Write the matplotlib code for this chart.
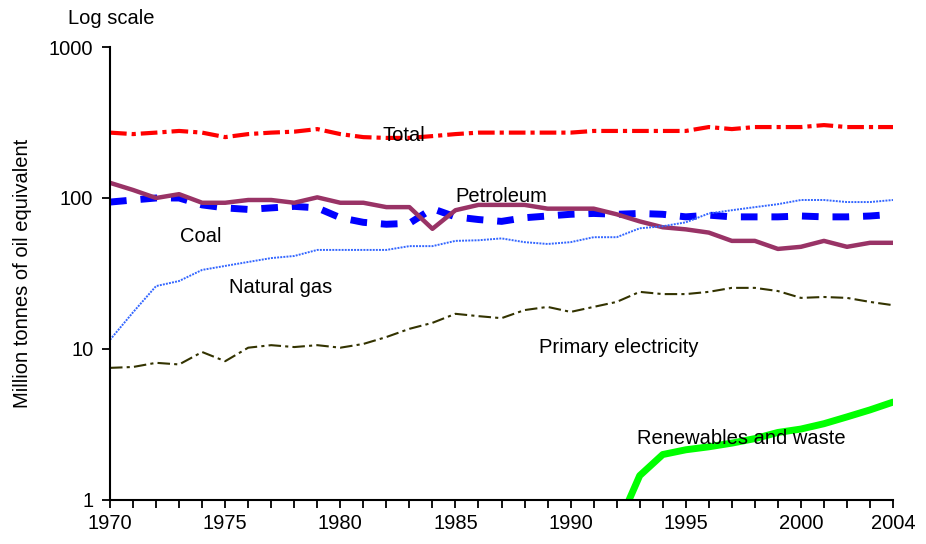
import matplotlib
matplotlib.use("Agg")
import matplotlib.pyplot as plt
from matplotlib.ticker import FixedLocator, NullLocator, FixedFormatter

plt.rcParams['font.family'] = ['Liberation Sans', 'DejaVu Sans']

years = list(range(1970, 2005))

total = [271, 265, 271, 278, 271, 253, 265, 271, 275, 286, 265, 253, 250, 250, 257,
         265, 271, 271, 271, 271, 271, 278, 278, 278, 278, 278, 295, 286, 295, 295,
         295, 304, 295, 295, 295]
petroleum = [126, 113, 100, 106, 93, 93, 97, 97, 93, 101, 93, 93, 87, 87, 62.5,
             83, 90, 90, 90, 85, 85, 85, 78, 70, 64, 62, 59, 52, 52, 46,
             47.5, 52, 47.5, 50.5, 50.5]
coal = [94, 97, 100, 100, 90, 86, 84, 86, 88, 86, 74, 69, 67, 68, 85,
        75, 72, 70, 74, 76, 78, 79, 78, 79, 78, 75, 77, 75, 75, 75,
        76, 75, 75, 76, 78]
natural_gas = [11.5, 17.5, 26.1, 28.2, 33.4, 35.5, 37.7, 40, 41.3, 45.3, 45.3, 45.3, 45.3, 48, 48,
               52, 52.5, 54, 51, 49.6, 51, 55, 55, 63, 65, 69, 79, 83, 87, 91,
               97, 97, 94, 94, 97]
primary_elec = [7.5, 7.6, 8.1, 7.9, 9.55, 8.3, 10.2, 10.6, 10.3, 10.6, 10.2, 10.8, 12, 13.6, 14.9,
                17.1, 16.5, 16.0, 18.1, 19, 17.6, 19, 20.5, 23.9, 23.1, 23.1, 23.9, 25.4, 25.4, 24.2,
                21.8, 22.1, 21.8, 20.5, 19.5]
renew_years = list(range(1992, 2005))
renewables = [0.65, 1.45, 2.0, 2.15, 2.25, 2.38, 2.55, 2.8, 2.95, 3.2, 3.55, 3.95, 4.45]

xtick_labels = ['1970', '1975', '1980', '1985', '1990', '1995', '2000', '2004']
xtick_pos = [1970, 1975, 1980, 1985, 1990, 1995, 2000, 2004]

fig = plt.figure(figsize=(9.26, 5.44), dpi=100)
ax = fig.add_axes([0.1188, 0.0809, 0.9644 - 0.1188, 0.9136 - 0.0809])

ax.plot(years, total, color='#ff0000', lw=3, linestyle=(0, (4, 1.2, 1, 1.2)))
ax.plot(years, coal, color='#0000ff', lw=5, linestyle=(0, (2.4, 2)))
ax.plot(years, petroleum, color='#993366', lw=3.2, solid_joinstyle='round')
ax.plot(years, natural_gas, color='#3366ff', lw=1.4, linestyle=(0, (1, 0.6)))
ax.plot(years, primary_elec, color='#333300', lw=1.5, linestyle=(0, (6, 2, 1.5, 2)))
ax.plot(renew_years, renewables, color='#00ff00', lw=5, solid_capstyle='round')

ax.set_yscale('log')
ax.set_xlim(1970, 2004)
ax.set_ylim(1, 1000)

ax.yaxis.set_major_locator(FixedLocator([1, 10, 100, 1000]))
ax.yaxis.set_minor_locator(NullLocator())
ax.set_yticklabels(['1', '10', '100', '1000'])
ax.xaxis.set_major_locator(FixedLocator(xtick_pos))
ax.xaxis.set_major_formatter(FixedFormatter(xtick_labels))
ax.xaxis.set_minor_locator(FixedLocator(years))

for s in ['top', 'right']:
    ax.spines[s].set_visible(False)
for s in ['left', 'bottom']:
    ax.spines[s].set_linewidth(1.5)
    ax.spines[s].set_color('black')

ax.tick_params(axis='both', which='both', direction='out', length=6, width=1.3,
               labelsize=14.5, colors='black')
ax.tick_params(axis='x', pad=4)
ax.tick_params(axis='y', pad=6)

ax.set_ylabel('Million tonnes of oil equivalent', fontsize=14.5, labelpad=12)

fs = 14.5
ax.text(1982.75, 261, 'Total', fontsize=fs, ha='center', va='center')
ax.text(1987.0, 101.6, 'Petroleum', fontsize=fs, ha='center', va='center')
ax.text(1973.95, 56, 'Coal', fontsize=fs, ha='center', va='center')
ax.text(1977.4, 25.4, 'Natural gas', fontsize=fs, ha='center', va='center')
ax.text(1992.1, 10.2, 'Primary electricity', fontsize=fs, ha='center', va='center')
ax.text(1997.4, 2.57, 'Renewables and waste', fontsize=fs, ha='center', va='center')

fig.text(111 / 926, 1 - 18 / 544, 'Log scale', fontsize=fs, ha='center', va='center')

fig.savefig('out.png', dpi=100)
